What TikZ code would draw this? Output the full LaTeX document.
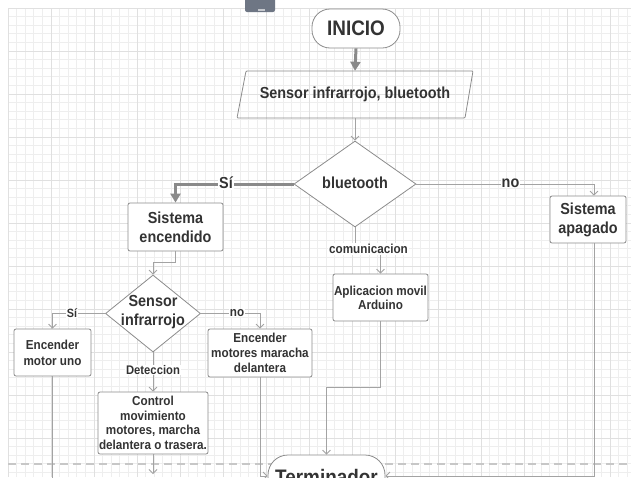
\documentclass[tikz,border=0pt]{standalone}
\usepackage{fontspec}
\setmainfont{Liberation Sans}[FakeStretch=0.9]
\usetikzlibrary{arrows.meta,shapes.geometric}
\definecolor{txt}{HTML}{333333}
\definecolor{edgec}{HTML}{8C8C8C}
\definecolor{conn}{HTML}{A3A3A3}
\definecolor{thickc}{HTML}{8A8A8A}
\definecolor{gridminor}{HTML}{EEEEEE}
\definecolor{gridmajor}{HTML}{E0E0E0}
\definecolor{gadget}{HTML}{6E7684}
\begin{document}
\begin{tikzpicture}[x=1pt,y=-1pt,
  fs/.style n args={2}{font=\bfseries\fontsize{#1}{#2}\selectfont},
  box/.style={draw=edgec, fill=white, rounded corners=2pt, line width=0.8pt,
    align=center, text=txt, inner sep=0pt},
  dia/.style={draw=edgec, fill=white, diamond, line width=0.8pt, inner sep=0pt},
  term/.style={draw=edgec, fill=white, line width=0.8pt, align=center, text=txt, inner sep=0pt},
  lab/.style={fill=white, inner sep=0.8pt, text=txt},
  arr/.style={draw=conn, line width=0.8pt, -{Straight Barb[length=4pt,width=8pt]}},
  plain/.style={draw=conn, line width=0.8pt},
  thickarr/.style={draw=thickc, line width=3pt, -{Triangle[length=9pt,width=10pt]}}
]
\clip (0,0) rectangle (631,477);
\fill[white] (0,0) rectangle (631,477);
% grid
\foreach \i in {8,16.6,...,631} \draw[gridminor, line width=0.7pt] (\i,8) -- (\i,477);
\foreach \j in {8,16.6,...,477} \draw[gridminor, line width=0.7pt] (8,\j) -- (631,\j);
\foreach \i in {8,51,...,631} \draw[gridmajor, line width=0.8pt] (\i,8) -- (\i,477);
\foreach \j in {8,51,...,477} \draw[gridmajor, line width=0.8pt] (8,\j) -- (631,\j);
% dashed page break
\draw[draw=black!22, line width=1.4pt, dash pattern=on 8pt off 5pt] (8,464) -- (631,464);
% gadget
\fill[gadget, rounded corners=2pt] (245,-4) rectangle (275,12);
\fill[gadget!40] (258,9) rectangle (265,10.6);

% nodes
\node[term, rounded corners=18pt, minimum width=88pt, minimum height=39pt, fs={21}{25}] (ini) at (356,28.5) {INICIO};
\node[fs={16}{19}, text=txt, minimum width=220pt, minimum height=47pt, inner sep=0pt] (inp) at (355,94.5) {Sensor infrarrojo, bluetooth};
\draw[draw=edgec, line width=0.8pt, rounded corners=1pt] (246,71) -- (473,71) -- (465,118) -- (237,118) -- cycle;

\node[dia, minimum width=122pt, minimum height=86pt] (d1) at (355,184) {};
\node[fs={16}{19}, text=txt] (d1t) at (355,183) {bluetooth};

\node[box, fs={16}{19}, minimum width=95pt, minimum height=48pt] (enc) at (175.5,227) {Sistema\\encendido};
\node[box, fs={16}{19}, minimum width=76pt, minimum height=47pt] (apag) at (588,219.5) {Sistema\\apagado};
\node[box, fs={13}{14}, minimum width=95pt, minimum height=47pt] (app) at (380.5,297.5) {Aplicacion movil\\Arduino};

\node[dia, minimum width=95pt, minimum height=77pt] (d2) at (153,313.5) {};
\node[fs={16}{19}, text=txt, align=center, inner sep=0pt] (d2t) at (153,312.5) {Sensor\\infrarrojo};

\node[box, fs={13}{16}, minimum width=77pt, minimum height=47pt] (m1) at (52.5,352.5) {Encender\\motor uno};
\node[box, fs={13}{15}, minimum width=104pt, minimum height=48pt] (m2) at (260,353) {Encender\\motores maracha\\delantera};
\node[box, fs={13}{14.5}, minimum width=110pt, minimum height=62pt] (ctl) at (153,423) {Control\\movimiento\\motores, marcha\\delantera o trasera.};

\node[term, rounded corners=20pt, minimum width=117pt, minimum height=42pt] (term) at (326.5,476) {};
\node[fs={21}{25}, text=txt] (termt) at (326.5,476.5) {Terminador};

\coordinate (ctlend) at (153,474);
\coordinate (m1end) at (52.5,480);

% connectors
\draw[thickarr] (ini.south) -- (inp.north);
\draw[arr] (inp.south) -- (d1.north);
\draw[thickarr] (d1.west) -| (enc.north);
\draw[arr] (d1.east) -| ([xshift=6pt]apag.north);
\draw[arr] (d1.south) -- (355,249) -| (app.north);
\draw[arr] (enc.south) -- (175.5,262) -| (d2.north);
\draw[arr] (d2.west) -| (m1.north);
\draw[arr] (d2.east) -| (m2.north);
\draw[arr] (d2.south) -- (ctl.north);
\draw[arr] (ctl.south) -- (ctlend);
\draw[plain] (m1.south) -- (m1end);
\draw[arr] (m2.south) |- (term.west);
\draw[arr] (app.south) -- (380.5,387) -| (term.north);
\draw[arr] ([xshift=6pt]apag.south) |- (term.east);

% labels
\node[lab, fs={16}{19}] (lsi1) at (226,183) {Sí};
\node[lab, fs={16}{19}] (lno1) at (510.5,183) {no};
\node[lab, fs={13}{15}] (lcom) at (368.5,249) {comunicacion};
\node[lab, fs={12}{14}] (lsi2) at (72,313) {Sí};
\node[lab, fs={13}{15}] (lno2) at (237,313) {no};
\node[lab, fs={12.5}{15}] (ldet) at (153,370) {Deteccion};
\end{tikzpicture}
\end{document}
